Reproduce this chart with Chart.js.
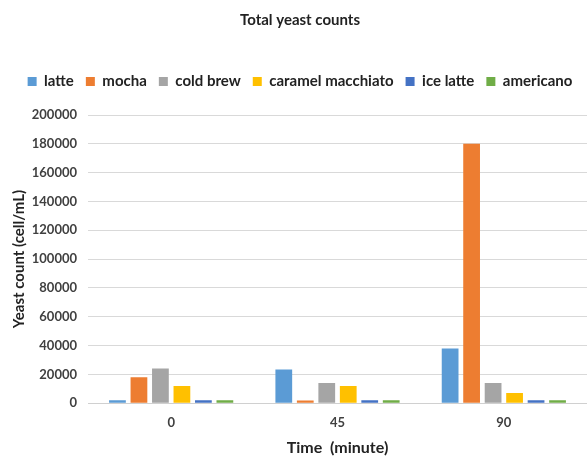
<!DOCTYPE html>
<html>
<head>
<meta charset="utf-8">
<script src="https://cdn.jsdelivr.net/npm/chart.js@4"></script>
<style>
	html, body { margin: 0; padding: 0; background: #fff; overflow: hidden; }
	#wrap { width: 587px; height: 457px; }
</style>
</head>
<body>
<div id="wrap"><canvas id="chart" width="587" height="457"></canvas></div>
<script>
const times = ['0', '45', '90'];
const latte = [2000, 23300, 38000];
const mocha = [18000, 1800, 180000];
const coldBrew = [24000, 14000, 14000];
const caramelMacchiato = [12000, 12000, 7000];
const iceLatte = [2000, 2000, 2000];
const americano = [2000, 2000, 2000];

const fontFamily = 'Lato, "Open Sans", sans-serif';
const textColor = '#404040';

const series = [
	{ label: 'latte', data: latte, color: '#5B9BD5' },
	{ label: 'mocha', data: mocha, color: '#ED7D31' },
	{ label: 'cold brew', data: coldBrew, color: '#A5A5A5' },
	{ label: 'caramel macchiato', data: caramelMacchiato, color: '#FFC000' },
	{ label: 'ice latte', data: iceLatte, color: '#4472C4' },
	{ label: 'americano', data: americano, color: '#70AD47' },
];

// extra room between the legend and the plot
const legendGap = {
	id: 'legendGap',
	beforeInit(chart) {
		const fit = chart.legend.fit;
		chart.legend.fit = function () {
			fit.call(this);
			this.height += 16;
		};
	},
};

new Chart(document.getElementById('chart'), {
	type: 'bar',
	data: {
		labels: times,
		datasets: series.map((s) => ({
			label: s.label,
			data: s.data,
			backgroundColor: s.color,
			borderWidth: 0,
			categoryPercentage: 0.775,
			barPercentage: 0.78,
		})),
	},
	options: {
		responsive: false,
		animation: false,
		layout: { padding: { left: 10, right: -3, top: 11, bottom: 0 } },
		plugins: {
			title: {
				display: true,
				text: 'Total yeast counts',
				color: '#222',
				font: { family: fontFamily, size: 15, weight: 'bold' },
				padding: { top: 0, bottom: 33 },
			},
			legend: {
				position: 'top',
				labels: {
					color: '#222',
					font: { family: fontFamily, size: 15, weight: 'bold' },
					boxWidth: 9,
					boxHeight: 9,
					padding: 12,
				},
			},
			tooltip: { enabled: false },
		},
		scales: {
			x: {
				grid: { display: false },
				border: { color: '#d0d0d0' },
				ticks: { color: textColor, font: { family: fontFamily, size: 13, weight: 'bold' }, padding: 4 },
				title: {
					display: true,
					text: 'Time  (minute)',
					color: '#222',
					font: { family: fontFamily, size: 16, weight: 'bold' },
					padding: { top: 3, bottom: 0 },
				},
			},
			y: {
				min: 0,
				max: 200000,
				afterFit: (scale) => { scale.width = 78; },
				ticks: {
					stepSize: 20000,
					color: textColor,
					font: { family: fontFamily, size: 13, weight: 'bold' },
					padding: 11,
					callback: (value) => String(value),
				},
				grid: { color: '#d9d9d9', drawTicks: false },
				border: { display: false },
				title: {
					display: true,
					text: 'Yeast count (cell/mL)',
					color: '#222',
					font: { family: fontFamily, size: 15, weight: 'bold' },
					padding: { top: 0, bottom: 2 },
				},
			},
		},
	},
	plugins: [legendGap],
});
</script>
</body>
</html>
